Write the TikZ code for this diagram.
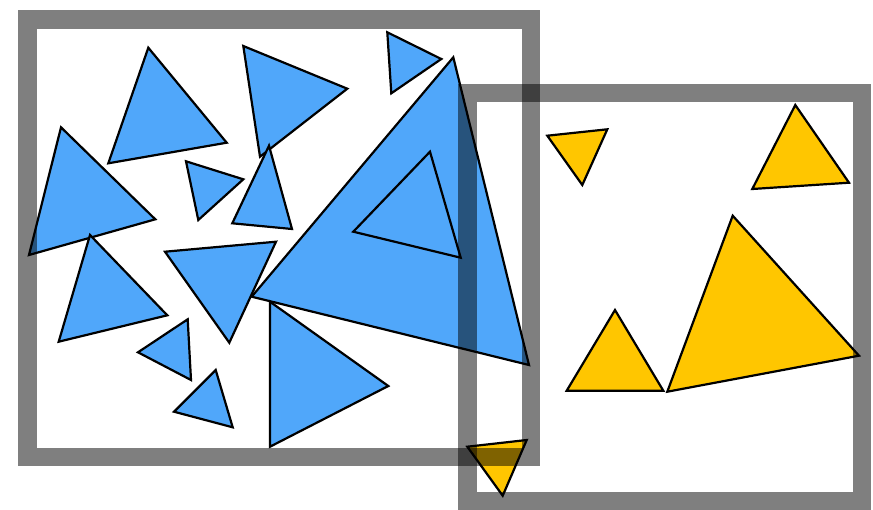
\documentclass[tikz,border=0pt]{standalone}
\begin{document}
\begin{tikzpicture}[x=1pt,y=-1pt,
  blue tri/.style={fill={rgb,255:red,80;green,167;blue,250},draw=black,line width=2.2pt,line join=miter},
  yellow tri/.style={fill={rgb,255:red,255;green,198;blue,0},draw=black,line width=2.2pt,line join=miter},
  frame/.style={draw=black,draw opacity=0.5,line width=18.5pt}]
\useasboundingbox (0,0) rectangle (873,509);
% blue triangles
\draw[blue tri] (453.3,57.3) -- (529,365) -- (251.7,296.7) -- cycle;
\draw[blue tri] (430,151.7) -- (460.7,257.7) -- (353.3,231.7) -- cycle;
\draw[blue tri] (148.3,47.7) -- (226.7,142.7) -- (108.3,163.3) -- cycle;
\draw[blue tri] (61,127.3) -- (155.3,219.3) -- (29,255) -- cycle;
\draw[blue tri] (186,161.3) -- (243.3,179.3) -- (198.3,220) -- cycle;
\draw[blue tri] (243.3,46) -- (347.3,88.7) -- (260,156.7) -- cycle;
\draw[blue tri] (269,145.7) -- (292,229) -- (232.3,223.3) -- cycle;
\draw[blue tri] (387.3,32.3) -- (441.3,59) -- (391.3,93.3) -- cycle;
\draw[blue tri] (90,235) -- (167.3,315.3) -- (58.7,341.7) -- cycle;
\draw[blue tri] (165,251.7) -- (276,241.7) -- (229.3,342.7) -- cycle;
\draw[blue tri] (187.7,319.3) -- (191,380) -- (138,352.3) -- cycle;
\draw[blue tri] (215.7,370) -- (232.7,427.3) -- (174,411.7) -- cycle;
\draw[blue tri] (270,301.7) -- (388.3,386) -- (270,446.7) -- cycle;
% yellow triangles
\draw[yellow tri] (547.3,135.7) -- (607.3,129.3) -- (582.3,185) -- cycle;
\draw[yellow tri] (795.3,105) -- (849,182.7) -- (752.3,189) -- cycle;
\draw[yellow tri] (615,310) -- (663.3,390.7) -- (566.7,390.7) -- cycle;
\draw[yellow tri] (732.7,215.7) -- (859,355.7) -- (667.3,391.7) -- cycle;
\draw[yellow tri] (467.3,446.7) -- (526.7,440) -- (502.7,495.7) -- cycle;
% frames
\draw[frame] (27.5,19.5) rectangle (531,457);
\draw[frame] (467.5,93) rectangle (862,501);
\end{tikzpicture}
\end{document}
